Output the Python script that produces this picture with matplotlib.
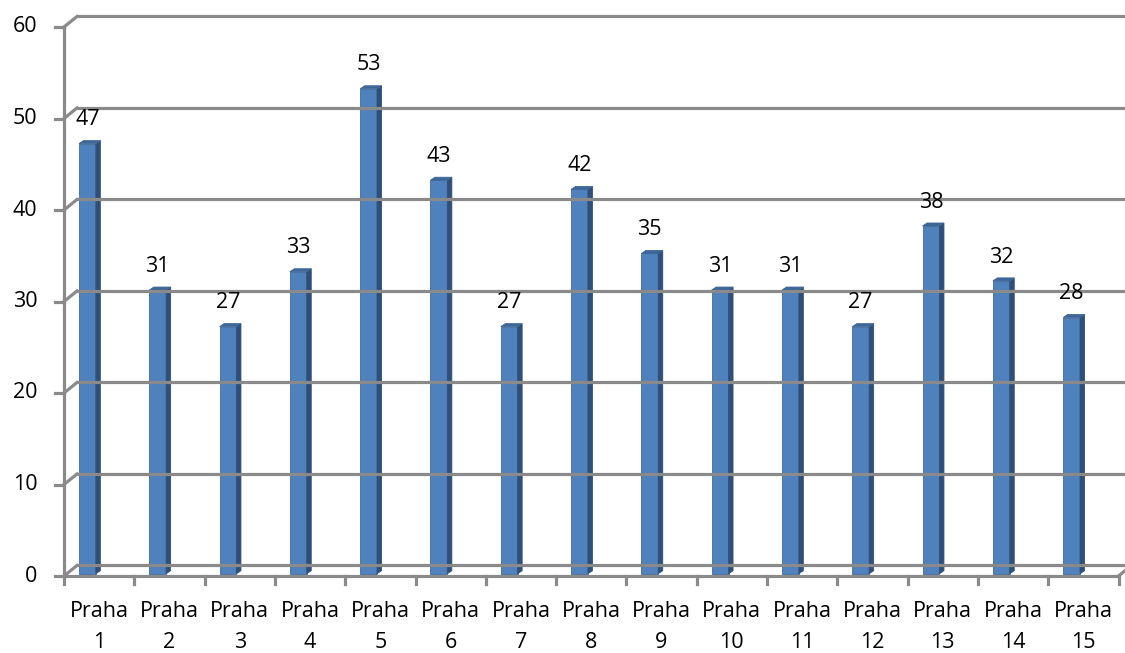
import matplotlib.pyplot as plt
from matplotlib.patches import Polygon

# Data
districts = ["Praha\n%d" % i for i in range(1, 16)]
values = [47, 31, 27, 33, 53, 43, 27, 42, 35, 31, 31, 27, 38, 32, 28]
yticks = [0, 10, 20, 30, 40, 50, 60]

plt.rcParams['font.family'] = ['Open Sans', 'DejaVu Sans']

fig = plt.figure(figsize=(11.25, 6.53), dpi=100)
ax = fig.add_axes([64 / 1125, 77 / 653, 1054.5 / 1125, 549 / 653])
ax.set_xlim(0, 15)
ax.set_ylim(0, 60)
ax.axis('off')

grid_c = '#8a8a8a'
lw = 2.3
# offset of the back wall (in data units)
bx, by = 0.185, 1.15

# back wall gridlines + left wall diagonals
for v in yticks:
    ax.plot([bx, 15 + bx + 0.5], [v + by, v + by], color=grid_c, lw=lw,
            clip_on=False, solid_capstyle='butt')
    ax.plot([0, bx], [v, v + by], color=grid_c, lw=lw, clip_on=False)
    ax.plot([-0.13, 0], [v, v], color=grid_c, lw=lw, clip_on=False)
    ax.text(-0.38, v, str(v), ha='right', va='center', fontsize=15.5)

# front floor edge, left wall edge, right floor diagonal
ax.plot([0, 15], [0, 0], color=grid_c, lw=lw, clip_on=False)
ax.plot([0, 0], [0, 60], color=grid_c, lw=lw, clip_on=False)
ax.plot([15, 15 + bx], [0, by], color=grid_c, lw=lw, clip_on=False)

# category ticks
for i in range(16):
    ax.plot([i, i], [0, -0.9], color=grid_c, lw=lw, clip_on=False)

# bars
front_c = '#4f81bd'
side_c = '#2f4f78'
top_c = '#3d6699'
x0, w = 0.213, 0.24
sx, sy = 0.064, 0.33
b0 = 0.25
for i, v in enumerate(values):
    l = i + x0
    r = l + w
    t = v + b0
    ax.add_patch(Polygon([(l, b0), (r, b0), (r, t), (l, t)], closed=True,
                         facecolor=front_c, edgecolor='#41699a', lw=0.6))
    ax.add_patch(Polygon([(r, b0), (r + sx, b0 + sy), (r + sx, t + sy), (r, t)],
                         closed=True, facecolor=side_c, edgecolor=side_c, lw=0.6))
    ax.add_patch(Polygon([(l, t), (r, t), (r + sx, t + sy), (l + sx, t + sy)],
                         closed=True, facecolor=top_c, edgecolor=top_c, lw=0.6))
    ax.text(l + w / 2, v + 2.85, str(v), ha='center', va='center', fontsize=15.5)

# category labels
for i, name in enumerate(districts):
    ax.text(i + 0.5, -2.75, name, ha='center', va='top', fontsize=15.5,
            linespacing=1.6)

fig.savefig('out.png', dpi=100)
